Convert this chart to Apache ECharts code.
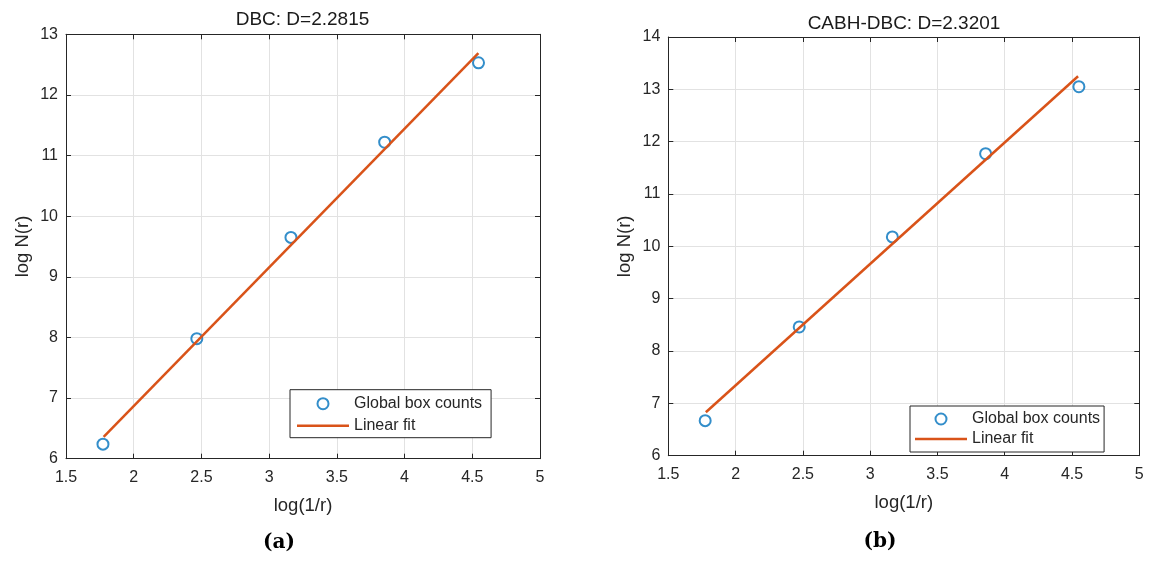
<!DOCTYPE html>
<html>
<head>
<meta charset="utf-8">
<script src="https://cdn.jsdelivr.net/npm/echarts@6/dist/echarts.min.js"></script>
<style>
html,body{margin:0;padding:0;background:#fff;}
#c{width:1156px;height:567px;}
</style>
</head>
<body>
<div id="c"></div>
<script>
// ---- data ----
const titleA = 'DBC: D=2.2815';
const titleB = 'CABH-DBC: D=2.3201';
const xName = 'log(1/r)';
const yName = 'log N(r)';
const nameCounts = 'Global box counts';
const nameFit = 'Linear fit';
const panelLabels = ['(a)', '(b)'];

// panel (a)
const xA = [1.773, 2.466, 3.161, 3.853, 4.546];
const yA = [6.24, 7.98, 9.65, 11.22, 12.53];
const fitXA = [1.778, 4.545];
const fitYA = [6.36, 12.69];

// panel (b)
const xB = [1.774, 2.473, 3.165, 3.858, 4.551];
const yB = [6.67, 8.46, 10.18, 11.77, 13.05];
const fitXB = [1.779, 4.545];
const fitYB = [6.83, 13.25];

// axis ranges
const xRange = [1.5, 5, 0.5];
const yRangeA = [6, 13, 1];
const yRangeB = [6, 14, 1];

// ---- styling ----
const FONT = '"Liberation Sans", Arial, Helvetica, sans-serif';
const AX = '#262626';
const GRID = '#e2e2e2';
const BLUE = '#0072BD';
const ORANGE = '#D95319';

function pairs(xs, ys) { return xs.map((x, i) => [x, ys[i]]); }

function mainX(gi, r, gap) {
  return {
    gridIndex: gi, type: 'value', min: r[0], max: r[1], interval: r[2],
    name: xName, nameLocation: 'middle', nameGap: gap,
    nameTextStyle: { fontSize: 18.5, color: AX, fontFamily: FONT },
    axisLine: { show: true, onZero: false, lineStyle: { color: AX, width: 1 } },
    axisTick: { show: true, inside: true, length: 5, lineStyle: { color: AX, width: 1 } },
    axisLabel: { fontSize: 16, color: AX, margin: 11, fontFamily: FONT },
    splitLine: { show: true, lineStyle: { color: GRID, width: 1 } }
  };
}
function topX(gi, r) {
  return {
    gridIndex: gi, type: 'value', position: 'top', min: r[0], max: r[1], interval: r[2],
    axisLine: { show: true, onZero: false, lineStyle: { color: AX, width: 1 } },
    axisTick: { show: true, inside: true, length: 5, lineStyle: { color: AX, width: 1 } },
    axisLabel: { show: false }, splitLine: { show: false }
  };
}
function mainY(gi, r, gap) {
  return {
    gridIndex: gi, type: 'value', min: r[0], max: r[1], interval: r[2],
    name: yName, nameLocation: 'middle', nameGap: gap, nameRotate: 90,
    nameTextStyle: { fontSize: 18.5, color: AX, fontFamily: FONT },
    axisLine: { show: true, onZero: false, lineStyle: { color: AX, width: 1 } },
    axisTick: { show: true, inside: true, length: 5, lineStyle: { color: AX, width: 1 } },
    axisLabel: { fontSize: 16, color: AX, margin: 8, fontFamily: FONT },
    splitLine: { show: true, lineStyle: { color: GRID, width: 1 } }
  };
}
function rightY(gi, r) {
  return {
    gridIndex: gi, type: 'value', position: 'right', min: r[0], max: r[1], interval: r[2],
    axisLine: { show: true, onZero: false, lineStyle: { color: AX, width: 1 } },
    axisTick: { show: true, inside: true, length: 5, lineStyle: { color: AX, width: 1 } },
    axisLabel: { show: false }, splitLine: { show: false }
  };
}
function legendFor(left, top, gap, pad) {
  return {
    left: left, top: top, orient: 'vertical', selectedMode: false,
    itemWidth: 52, itemHeight: 11, itemGap: gap, padding: pad,
    borderColor: AX, borderWidth: 1, backgroundColor: '#fff', borderRadius: 0,
    textStyle: { fontSize: 16, color: AX, fontFamily: FONT, lineHeight: 20 },
    data: [
      { name: nameCounts, icon: 'circle', itemStyle: { color: 'rgba(255,255,255,0)', borderColor: BLUE, borderWidth: 2 } },
      { name: nameFit, icon: 'path://M0,0L52,0L52,2.5L0,2.5Z',
        itemStyle: { color: ORANGE, borderWidth: 0 }, lineStyle: { width: 0, opacity: 0 } }
    ]
  };
}
function scatterS(xi, yi, data) {
  return {
    type: 'scatter', name: nameCounts, xAxisIndex: xi, yAxisIndex: yi, data: data,
    symbol: 'circle', symbolSize: 11, z: 3,
    itemStyle: { color: 'rgba(255,255,255,0)', borderColor: BLUE, borderWidth: 2 }
  };
}
function lineS(xi, yi, data) {
  return {
    type: 'line', name: nameFit, xAxisIndex: xi, yAxisIndex: yi, data: data,
    symbol: 'none', showSymbol: false, z: 4, silent: true,
    lineStyle: { color: ORANGE, width: 2.5 }, itemStyle: { color: ORANGE }
  };
}
function txt(text, x, y, font, fill) {
  return {
    type: 'text', x: x, y: y, silent: true,
    style: { text: text, font: font, fill: fill, align: 'center', verticalAlign: 'middle',
             textAlign: 'center', textVerticalAlign: 'middle' }
  };
}

const chart = echarts.init(document.getElementById('c'), null, { renderer: 'canvas' });
chart.setOption({
  backgroundColor: '#fff',
  animation: false,
  grid: [
    { left: 66, top: 34.3, width: 474, height: 424.4, containLabel: false },
    { left: 668.3, top: 37, width: 471, height: 418.7, containLabel: false }
  ],
  xAxis: [ mainX(0, xRange, 38), topX(0, xRange), mainX(1, xRange, 38), topX(1, xRange) ],
  yAxis: [ mainY(0, yRangeA, 34), rightY(0, yRangeA), mainY(1, yRangeB, 34), rightY(1, yRangeB) ],
  legend: [
    legendFor(290, 389.7, 2, [4, 9, 2, 7]),
    legendFor(910, 406, 0, [3, 4, 3, 5])
  ],
  series: [
    scatterS(0, 0, pairs(xA, yA)),
    lineS(0, 0, pairs(fitXA, fitYA)),
    scatterS(2, 2, pairs(xB, yB)),
    lineS(2, 2, pairs(fitXB, fitYB))
  ],
  graphic: [
    txt(titleA, 302.5, 20, '19px ' + FONT, '#1a1a1a'),
    txt(titleB, 904, 23.3, '19px ' + FONT, '#1a1a1a'),
    txt(panelLabels[0], 279, 543, 'bold 20px "DejaVu Serif", serif', '#000'),
    txt(panelLabels[1], 880, 542, 'bold 20px "DejaVu Serif", serif', '#000')
  ]
});
</script>
</body>
</html>
